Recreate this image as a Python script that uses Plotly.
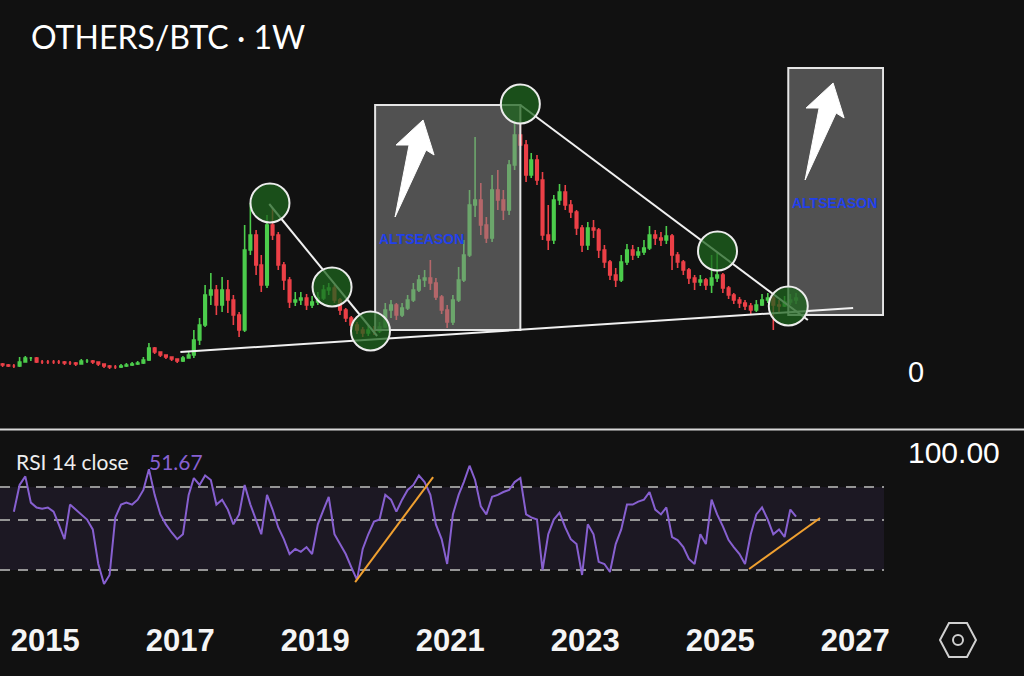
import math
import pandas as pd
import plotly.graph_objects as go

# ---------------- data (monthly OHLC, arbitrary OTHERS/BTC units) ----------------
first_month = "2014-05-01"
first_open = 8
close = [7, 6, 6, 10, 14, 14, 10, 10,
         10, 10, 10, 9, 9, 8, 11, 11, 10, 8, 6, 5,
         5, 6, 7, 8, 9, 12, 24, 20, 17, 15, 13, 11,
         14, 17, 32, 47, 77, 82, 67, 82, 72, 57, 42, 122,
         137, 107, 87, 147, 137, 107, 92, 70, 72, 74, 67, 70,
         74, 82, 84, 72, 62, 54, 47, 42, 39, 42, 41, 45,
         62, 67, 57, 64, 72, 82, 92, 94, 89, 75, 62, 50,
         72, 92, 117, 167, 172, 147, 134, 182, 172, 162, 207, 237,
         227, 197, 212, 192, 137, 132, 172, 180, 167, 160, 144, 127,
         144, 142, 122, 110, 97, 92, 110, 122, 117, 120, 124, 137,
         134, 132, 136, 117, 110, 102, 94, 90, 92, 87, 94, 97,
         84, 77, 72, 69, 66, 62, 67, 72, 74, 67, 66, 70,
         72, 74]
high = [9, 8, 8, 15, 16, 15, 15, 12,
        12, 12, 12, 11, 11, 10, 13, 13, 12, 10, 8, 7,
        7, 8, 9, 10, 11, 15, 29, 25, 20, 17, 15, 13,
        16, 20, 42, 54, 87, 99, 87, 95, 92, 77, 60, 147,
        169, 142, 117, 157, 164, 140, 110, 95, 80, 80, 78, 76,
        80, 87, 89, 87, 74, 64, 56, 50, 45, 47, 46, 50,
        69, 72, 69, 69, 77, 89, 97, 102, 112, 94, 77, 67,
        77, 105, 132, 182, 235, 189, 155, 197, 202, 182, 212, 252,
        267, 232, 219, 217, 200, 167, 177, 188, 187, 172, 162, 147,
        150, 152, 144, 127, 112, 104, 117, 128, 127, 125, 132, 146,
        142, 140, 146, 138, 120, 112, 104, 97, 97, 94, 117, 119,
        99, 86, 79, 75, 72, 69, 72, 78, 79, 76, 72, 76,
        78, 79]
low = [5, 5, 4, 5, 10, 11, 9, 8,
       8, 8, 8, 7, 7, 6, 8, 9, 8, 6, 4, 3,
       3, 4, 5, 6, 7, 8, 11, 18, 15, 13, 11, 9,
       10, 14, 14, 27, 45, 67, 57, 60, 59, 47, 35, 40,
       117, 97, 80, 84, 132, 102, 82, 64, 66, 67, 62, 64,
       67, 72, 77, 69, 57, 50, 44, 38, 35, 36, 37, 39,
       44, 54, 52, 55, 62, 70, 80, 85, 82, 72, 58, 44,
       47, 70, 90, 115, 155, 137, 129, 130, 162, 152, 157, 202,
       222, 190, 194, 187, 132, 122, 128, 167, 162, 154, 137, 120,
       122, 134, 114, 104, 92, 85, 90, 107, 112, 114, 117, 122,
       127, 126, 128, 102, 104, 97, 88, 82, 86, 82, 79, 90,
       79, 73, 68, 64, 62, 58, 60, 66, 69, 42, 60, 65,
       67, 68]

# RSI(14) readings, monthly from Jul 2014
rsi_first_month = "2014-07-01"
rsi = [54.4, 71.5, 78.0, 59.7, 56.8, 56.1,
       56.8, 54.4, 47.8, 41.1, 58.5, 55.6, 52.9, 50.2, 45.4, 31.9, 26.0, 28.5,
       51.3, 58.5, 59.7, 58.5, 61.5, 67.9, 84.0, 64.6, 52.9, 47.8, 44.0, 41.1,
       43.2, 64.6, 76.7, 71.5, 78.8, 75.2, 58.5, 61.5, 55.6, 47.8, 52.9, 71.5,
       58.5, 50.2, 43.2, 64.6, 55.6, 46.3, 41.1, 35.3, 37.2, 36.1, 37.9, 35.3,
       47.8, 55.6, 63.3, 43.2, 39.1, 35.3, 30.9, 27.1, 37.2, 43.2, 49.2, 50.2,
       64.6, 61.5, 54.4, 61.5, 67.9, 71.5, 78.8, 73.6, 64.6, 47.8, 41.1, 31.9,
       52.9, 64.6, 73.6, 87.0, 75.2, 57.4, 52.9, 63.3, 64.6, 66.5, 67.9, 73.6,
       76.7, 52.9, 51.3, 50.2, 30.0, 43.2, 50.2, 53.9, 46.3, 41.1, 39.1, 28.5,
       47.8, 43.2, 32.6, 31.9, 29.4, 39.1, 45.4, 58.5, 58.5, 60.3, 61.5, 66.5,
       55.6, 52.9, 56.8, 42.0, 40.7, 37.9, 33.6, 31.9, 43.2, 39.1, 61.5, 52.9,
       46.8, 40.7, 37.9, 35.3, 31.9, 43.2, 52.9, 56.8, 50.2, 43.2, 45.4, 42.0,
       55.6, 51.67]
rsi_levels = [70, 50, 30]

title_text = "OTHERS/BTC · 1W"
x_range = ["2014-05-01", "2027-06-06"]

# drawings: (decimal year, value)
support_line = [(2017.00, 20), (2026.97, 64)]
down_line_1 = [(2018.32, 168), (2019.92, 36)]
down_line_2 = [(2022.04, 267), (2026.30, 52)]
circles = [(2018.33, 169), (2019.25, 85), (2019.82, 41),
           (2022.04, 268), (2024.96, 121), (2026.01, 66)]
boxes = [((2019.89, 42), (2022.04, 267)), ((2026.01, 57), (2027.415, 304))]
box_labels = [(2020.57, 133), (2026.70, 169)]
arrows = [(2020.185, 155), (2026.26, 192)]
rsi_lines = [((2019.593, 26.5), (2020.748, 77.5)), ((2025.43, 30.3), (2026.48, 51.0))]

# ---------------- styling ----------------
BG = "#111111"
UP = "#4ccd4c"
DOWN = "#ec4047"
RSI_COL = "#8760d0"
W, H = 1024, 676
ML, MR, MT, MB = 0, 140, 0, 66
PW, PH = W - ML - MR, H - MT - MB
MAIN_BOTTOM_PX = 429
RSI_TOP_PX = 431


def yr2date(t):
    y = int(t)
    d0 = pd.Timestamp(year=y, month=1, day=1)
    d1 = pd.Timestamp(year=y + 1, month=1, day=1)
    return (d0 + (d1 - d0) * (t - y)).strftime("%Y-%m-%d")


def pxx(px):
    return (px - ML) / PW


def pxy(py):
    return (PH + MT - py) / PH


months = pd.date_range(first_month, periods=len(close), freq="MS") + pd.Timedelta(days=14)
opens = [first_open] + close[:-1]
rsi_dates = pd.date_range(rsi_first_month, periods=len(rsi), freq="MS") + pd.Timedelta(days=14)

fig = go.Figure()
fig.add_trace(go.Candlestick(
    x=months, open=opens, high=high, low=low, close=close,
    increasing=dict(line=dict(color=UP, width=1.6), fillcolor=UP),
    decreasing=dict(line=dict(color=DOWN, width=1.6), fillcolor=DOWN),
    whiskerwidth=0, xaxis="x", yaxis="y", hoverinfo="skip"))

# RSI background band between 30 and 70
fig.add_trace(go.Scatter(
    x=[x_range[0], x_range[1], x_range[1], x_range[0], x_range[0]],
    y=[rsi_levels[2], rsi_levels[2], rsi_levels[0], rsi_levels[0], rsi_levels[2]],
    mode="lines", fill="toself", fillcolor="rgba(126,87,194,0.10)",
    line=dict(width=0), xaxis="x", yaxis="y2", hoverinfo="skip"))
for lv in rsi_levels:
    fig.add_trace(go.Scatter(x=x_range, y=[lv, lv], mode="lines",
                             line=dict(color="#959595", width=2, dash="10px,8px"),
                             xaxis="x", yaxis="y2", hoverinfo="skip"))
fig.add_trace(go.Scatter(x=rsi_dates, y=rsi, mode="lines",
                         line=dict(color=RSI_COL, width=2), xaxis="x", yaxis="y2",
                         hoverinfo="skip"))
for (a, b) in rsi_lines:
    fig.add_trace(go.Scatter(x=[yr2date(a[0]), yr2date(b[0])], y=[a[1], b[1]], mode="lines",
                             line=dict(color="#f0a030", width=2), xaxis="x", yaxis="y2",
                             hoverinfo="skip"))

shapes = []
# pane separator
sep_y = pxy(MAIN_BOTTOM_PX + 0.5)
shapes.append(dict(type="line", xref="paper", yref="paper", x0=0, x1=W / PW, y0=sep_y, y1=sep_y,
                   line=dict(color="#d8d8d8", width=2)))
# boxes
for (a, b) in boxes:
    shapes.append(dict(type="rect", xref="x", yref="y", x0=yr2date(a[0]), x1=yr2date(b[0]),
                       y0=a[1], y1=b[1], fillcolor="rgba(135,135,135,0.55)",
                       line=dict(color="#e6e6e6", width=2)))
# trend lines
for ln in (support_line, down_line_1, down_line_2):
    shapes.append(dict(type="line", xref="x", yref="y", x0=yr2date(ln[0][0]), y0=ln[0][1],
                       x1=yr2date(ln[1][0]), y1=ln[1][1], line=dict(color="#f0f0f0", width=2)))
# circles
R = 19.5
for (t, v) in circles:
    shapes.append(dict(type="circle", xref="x", yref="y", xsizemode="pixel", ysizemode="pixel",
                       xanchor=yr2date(t), yanchor=v, x0=-R, x1=R, y0=-R, y1=R,
                       fillcolor="rgba(30,100,30,0.75)", line=dict(color="#ececec", width=2)))
# arrows (pixel offsets from tail)
arrow_path = "M0,0 L14,72 L1,72 L28,97 L39,62 L31,67 Z"
for (t, v) in arrows:
    shapes.append(dict(type="path", xref="x", yref="y", xsizemode="pixel", ysizemode="pixel",
                       xanchor=yr2date(t), yanchor=v, path=arrow_path,
                       fillcolor="#ffffff", line=dict(color="#ffffff", width=1)))
# settings hexagon icon
hx, hy = pxx(958), pxy(640)
shapes.append(dict(type="path", xref="paper", yref="paper", xsizemode="pixel", ysizemode="pixel",
                   xanchor=hx, yanchor=hy,
                   path="M-18,0 L-9,17 L9,17 L18,0 L9,-17 L-9,-17 Z",
                   line=dict(color="#d0d0d0", width=2)))
shapes.append(dict(type="circle", xref="paper", yref="paper", xsizemode="pixel", ysizemode="pixel",
                   xanchor=hx, yanchor=hy, x0=-5, x1=5, y0=-5, y1=5,
                   line=dict(color="#d0d0d0", width=2)))

annotations = [
    dict(text=title_text, xref="paper", yref="paper", x=pxx(29), y=pxy(36),
         xanchor="left", yanchor="middle", showarrow=False,
         font=dict(family="Lato", size=32, color="#ffffff")),
    dict(text="RSI 14 close", xref="paper", yref="paper", x=pxx(14), y=pxy(461),
         xanchor="left", yanchor="middle", showarrow=False,
         font=dict(family="Lato", size=21, color="#eeeeee")),
    dict(text=f"{rsi[-1]:.2f}", xref="paper", yref="paper", x=pxx(147), y=pxy(461),
         xanchor="left", yanchor="middle", showarrow=False,
         font=dict(family="Lato", size=21, color=RSI_COL)),
    dict(text="0", xref="paper", yref="y", x=pxx(906), y=0,
         xanchor="left", yanchor="middle", showarrow=False,
         font=dict(family="Liberation Sans", size=29, color="#ffffff")),
    dict(text="100.00", xref="paper", yref="y2", x=pxx(906), y=2.0,
         xanchor="left", yanchor="middle", showarrow=False,
         font=dict(family="Liberation Sans", size=30, color="#ffffff")),
]
for (t, v) in box_labels:
    annotations.append(dict(text="ALTSEASON", xref="x", yref="y", x=yr2date(t), y=v,
                            showarrow=False, xanchor="center", yanchor="middle",
                            font=dict(family="Liberation Sans", size=14, color="#2140ea", weight=700)))

rsi_lo = 70 * 10 ** ((487 - PH) / 225.5)
rsi_hi = 70 * 10 ** ((487 - RSI_TOP_PX) / 225.5)

fig.update_layout(
    width=W, height=H, margin=dict(l=ML, r=MR, t=MT, b=MB),
    paper_bgcolor=BG, plot_bgcolor=BG, showlegend=False,
    xaxis=dict(type="date", range=x_range, anchor="y2", tickformat="%Y", dtick="M24",
               tick0="2015-01-01", showgrid=False, zeroline=False, showline=False, ticks="",
               tickfont=dict(family="Liberation Sans", size=31, color="#f5f5f5", weight=700),
               ticklabelstandoff=9, rangeslider=dict(visible=False)),
    yaxis=dict(domain=[pxy(MAIN_BOTTOM_PX), 1], range=[-57, 372], visible=False,
               showgrid=False, zeroline=False),
    yaxis2=dict(domain=[0, pxy(RSI_TOP_PX)], type="log",
                range=[math.log10(rsi_lo), math.log10(rsi_hi)], visible=False,
                showgrid=False, zeroline=False),
    shapes=shapes, annotations=annotations,
)

fig.write_html("out.html")
